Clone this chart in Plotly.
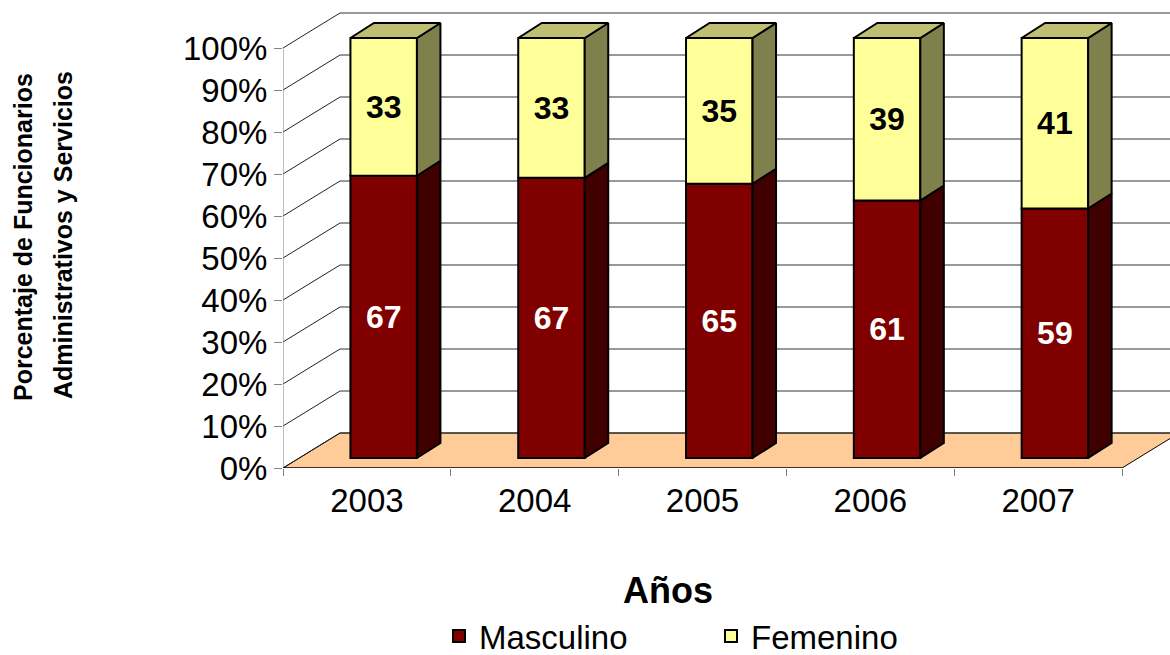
import plotly.graph_objects as go

years = ["2003", "2004", "2005", "2006", "2007"]
masculino = [67.2, 66.7, 65.3, 61.3, 59.4]
femenino = [32.8, 33.3, 34.7, 38.7, 40.6]
y_ticks = [0, 10, 20, 30, 40, 50, 60, 70, 80, 90, 100]
y_labels = ["0%", "10%", "20%", "30%", "40%", "50%", "60%", "70%", "80%", "90%", "100%"]

FONT = "Liberation Sans, Arial, sans-serif"
# pseudo-3D projection, in axis units
X_UNIT, Y_UNIT = 167.8, 4.2
WALL_DX, WALL_DY = 57 / X_UNIT, 35 / Y_UNIT
BAR_DX, BAR_DY = 23.5 / X_UNIT, 15 / Y_UNIT
BAR_W = 66.5 / X_UNIT
BAR_SHIFT = 0.1
BAR_BASE = 10 / Y_UNIT
X0, X1 = -0.5, 4.5
XMAX = X0 + 887 / X_UNIT
PLOT_H = 463
PLOT_W = 887

def px(p):
    return (p - 283) / PLOT_W

def py(p):
    return (468 - p) / PLOT_H

xs = [i + BAR_SHIFT for i in range(len(years))]
base_m = [BAR_BASE] * len(years)
base_f = [BAR_BASE + m for m in masculino]

def poly(xv, yv, fill):
    return go.Scatter(x=xv, y=yv, mode="lines", fill="toself", fillcolor=fill,
                      line=dict(color="black", width=2), showlegend=False,
                      hoverinfo="skip", cliponaxis=False)

fig = go.Figure()
for name, vals, base, col, tcol in [("Masculino", masculino, base_m, "#800000", "white"),
                                    ("Femenino", femenino, base_f, "#FFFF99", "black")]:
    fig.add_trace(go.Bar(x=xs, y=vals, base=base, width=BAR_W, name=name, showlegend=False,
                         marker=dict(color=col, line=dict(color="black", width=2)),
                         text=[str(round(v)) for v in vals], textposition="inside",
                         insidetextanchor="middle", textangle=0, constraintext="none",
                         textfont=dict(family=FONT, size=32, color=tcol, weight="bold"),
                         cliponaxis=False))

for i, x in enumerate(xs):
    r = x + BAR_W / 2
    l = x - BAR_W / 2
    b, m, t = base_m[i], base_f[i], base_f[i] + femenino[i]
    fig.add_trace(poly([r, r + BAR_DX, r + BAR_DX, r, r], [b, b + BAR_DY, m + BAR_DY, m, b], "#400000"))
    fig.add_trace(poly([r, r + BAR_DX, r + BAR_DX, r, r], [m, m + BAR_DY, t + BAR_DY, t, m], "#80804D"))
    fig.add_trace(poly([l, l + BAR_DX, r + BAR_DX, r, l], [t, t + BAR_DY, t + BAR_DY, t, t], "#BFBF73"))

for name, col in [("Masculino", "#800000"), ("Femenino", "#FFFF99")]:
    fig.add_trace(go.Scatter(x=[None], y=[None], mode="markers", name=name,
                             marker=dict(symbol="square", size=16, color=col,
                                         line=dict(color="black", width=2))))

shapes = [dict(type="path", layer="below", fillcolor="#FFCC99", line=dict(color="black", width=1),
               path=f"M {X0},0 L {X0 + WALL_DX},{WALL_DY} L {X1 + WALL_DX},{WALL_DY} L {X1},0 Z")]
for v in y_ticks:
    shapes.append(dict(type="line", layer="below", x0=X0, y0=v, x1=X0 + WALL_DX, y1=v + WALL_DY,
                       line=dict(color="#222222", width=1)))
    shapes.append(dict(type="line", layer="below", x0=X0 + WALL_DX, y0=v + WALL_DY, x1=XMAX, y1=v + WALL_DY,
                       line=dict(color="#333333", width=1)))
shapes.append(dict(type="line", layer="below", x0=X0, y0=0, x1=X0, y1=100, line=dict(color="#808080", width=1)))
shapes.append(dict(type="line", layer="below", x0=X0, y0=0, x1=X1, y1=0, line=dict(color="black", width=1)))

fig.update_layout(
    width=1170, height=655, margin=dict(l=283, r=0, t=5, b=187, pad=0),
    plot_bgcolor="white", paper_bgcolor="white", barmode="overlay",
    font=dict(family=FONT, color="black"), shapes=shapes,
    xaxis=dict(range=[X0, XMAX], tickvals=list(range(len(years))), ticktext=years, ticks="",
               showgrid=False, zeroline=False, showline=False, ticklabelstandoff=10,
               tickfont=dict(size=33, family=FONT),
               minor=dict(ticks="outside", ticklen=7, tick0=-0.5, dtick=1, tickcolor="#808080", tickwidth=1, showgrid=False)),
    yaxis=dict(range=[0, 463 / Y_UNIT], tickvals=y_ticks, ticktext=y_labels, ticks="outside", ticklen=8,
               tickcolor="#808080", showgrid=False, zeroline=False, showline=False,
               tickfont=dict(size=33, family=FONT)),
    legend=dict(orientation="h", x=px(439), xanchor="left", y=(655 - 636) / 655, yref="container", yanchor="middle",
                entrywidth=227, entrywidthmode="pixels", font=dict(size=33, family=FONT), itemsizing="constant"),
    annotations=[
        dict(text="<b>Años</b>", xref="paper", yref="paper", x=px(668), y=py(590), xanchor="center", yanchor="middle",
             showarrow=False, font=dict(size=36, family=FONT)),
        dict(text="<b>Porcentaje de Funcionarios</b>", xref="paper", yref="paper", x=px(23), y=py(237),
             xanchor="center", yanchor="middle", showarrow=False, textangle=-90, font=dict(size=25, family=FONT)),
        dict(text="<b>Administrativos y Servicios</b>", xref="paper", yref="paper", x=px(63), y=py(235),
             xanchor="center", yanchor="middle", showarrow=False, textangle=-90, font=dict(size=25, family=FONT)),
    ],
)
fig.write_html("out.html", post_script="document.body.style.margin='0';", config=dict(displayModeBar=False))
